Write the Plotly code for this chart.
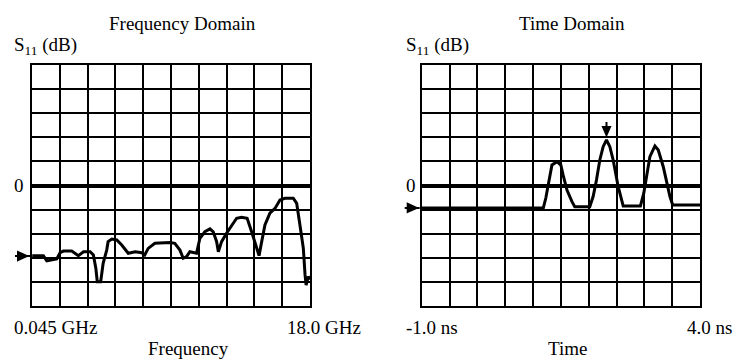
import plotly.graph_objects as go

# ---------------- data ----------------
freq_ghz = [0.06, 0.78, 1.00, 1.64, 1.86, 2.07, 2.61, 3.04, 3.37, 3.80, 4.01, 4.17, 4.26, 4.48,
            4.64, 4.87, 4.96, 5.20, 5.52, 5.84, 6.26, 6.71, 7.14, 7.33, 7.55, 7.98, 8.95, 9.27,
            9.60, 9.81, 10.03, 10.24, 10.67, 10.89, 11.21, 11.54, 11.75, 11.97, 12.08, 12.29,
            12.61, 12.94, 13.26, 13.58, 13.94, 14.23, 14.55, 14.71, 14.88, 15.09, 15.41, 15.74,
            16.06, 16.38, 16.92, 17.14, 17.35, 17.57, 17.68, 17.75, 17.89, 18.0]
s11_freq_db = [-29.1, -29.1, -31.3, -30.5, -27.9, -27.2, -27.2, -29.1, -27.5, -27.5, -28.8, -34.4,
               -39.9, -39.9, -32.3, -26.8, -23.3, -22.2, -22.6, -24.7, -28.1, -27.5, -27.9, -28.8,
               -26.1, -24.0, -23.7, -24.0, -26.8, -30.2, -29.5, -27.5, -28.1, -21.9, -19.2, -18.0,
               -19.2, -23.3, -27.5, -23.3, -19.8, -16.4, -13.6, -13.2, -13.6, -19.2, -26.1, -29.1,
               -23.3, -16.4, -11.5, -9.5, -6.0, -5.3, -5.3, -7.4, -16.4, -26.1, -37.1, -41.3,
               -37.8, -39.0]

time_ns = [-1.0, 1.185, 1.23, 1.29, 1.34, 1.43, 1.50, 1.54, 1.61, 1.70, 1.75, 2.02, 2.08, 2.14,
           2.20, 2.26, 2.32, 2.38, 2.44, 2.53, 2.59, 2.62, 2.93, 2.99, 3.04, 3.10, 3.19, 3.25,
           3.34, 3.40, 3.46, 3.51, 4.0]
s11_time_db = [-9.3, -9.3, -5.2, 2.3, 8.5, 9.9, 8.5, 4.4, -1.9, -6.7, -8.8, -8.8, -4.6, 2.3,
               10.6, 16.1, 18.9, 16.1, 10.6, -0.5, -6.7, -8.5, -8.5, -3.2, 3.7, 12.0, 16.4, 14.7,
               7.8, 1.6, -4.6, -8.1, -8.1]

freq_range = [0.045, 18.0]
time_range = [-1.0, 4.0]
db_range = [-50, 50]
db_per_div = 10
ref_freq_db = -29.3
ref_time_db = -9.3

freq_tick_labels = ["0.045 GHz", "18.0 GHz"]
time_tick_labels = ["-1.0 ns", "4.0 ns"]
titles = ["Frequency Domain", "Time Domain"]
x_titles = ["Frequency", "Time"]
y_title = "S<sub>11</sub> (dB)"

# ---------------- figure ----------------
W, H = 738, 361
FONT = dict(family="Liberation Serif, Times New Roman, serif", size=19, color="black")

fig = go.Figure()
fig.add_trace(go.Scatter(x=freq_ghz, y=s11_freq_db, mode="lines",
                         line=dict(color="black", width=3), xaxis="x", yaxis="y",
                         hoverinfo="skip"))
fig.add_trace(go.Scatter(x=time_ns, y=s11_time_db, mode="lines",
                         line=dict(color="black", width=3), xaxis="x2", yaxis="y2",
                         hoverinfo="skip"))


def px_x(p):
    return p / W


def px_y(p):
    return 1 - p / H


grid = dict(showgrid=True, gridcolor="black", gridwidth=1.5, showline=True, linecolor="black",
            linewidth=1.5, mirror=True, ticks="", showticklabels=False, fixedrange=True)

xdom1 = [px_x(32), px_x(310)]
xdom2 = [px_x(421.7), px_x(700)]
ydom = [px_y(306), px_y(65)]
fig.update_layout(
    width=W, height=H, margin=dict(l=0, r=0, t=0, b=0),
    paper_bgcolor="white", plot_bgcolor="white", showlegend=False,
    font=FONT,
    xaxis=dict(domain=xdom1, range=freq_range, tick0=freq_range[0],
               dtick=(freq_range[1] - freq_range[0]) / 10, zeroline=False, **grid),
    yaxis=dict(domain=ydom, range=db_range, dtick=db_per_div, zeroline=True,
               zerolinecolor="black", zerolinewidth=4, **grid),
    xaxis2=dict(domain=xdom2, range=time_range, tick0=time_range[0],
                dtick=(time_range[1] - time_range[0]) / 10, zeroline=False, anchor="y2", **grid),
    yaxis2=dict(domain=ydom, range=db_range, dtick=db_per_div, zeroline=True,
                zerolinecolor="black", zerolinewidth=4, anchor="x2", **grid),
)

ann = []


def text(t, x, y, xanchor="center"):
    ann.append(dict(text=t, x=px_x(x), y=px_y(y), xref="paper", yref="paper",
                    xanchor=xanchor, yanchor="middle", showarrow=False, font=FONT))


# titles and labels
text(titles[0], 182.5, 23)
text(titles[1], 571.7, 23)
text(y_title, 12, 46, "left")
text(y_title, 404, 46, "left")
text("0", 19, 185)
text("0", 411.5, 185)
text(freq_tick_labels[0], 12, 327, "left")
text(freq_tick_labels[1], 363, 327, "right")
text(time_tick_labels[0], 404, 327, "left")
text(time_tick_labels[1], 734, 327, "right")
text(x_titles[0], 188, 348)
text(x_titles[1], 567.5, 348)
fig.update_layout(annotations=ann)

# reference-level arrows (pixel-sized shapes at the axis edge, at the data reference level)
ref_arrow_path = "M -17,0 L -2,0 M -14,-4 L -5,0 L -14,4 Z"
for xa, yr, ya in [(xdom1[0], "y", ref_freq_db), (xdom2[0], "y2", ref_time_db)]:
    fig.add_shape(type="path", xref="paper", yref=yr, xsizemode="pixel", ysizemode="pixel",
                  xanchor=xa, yanchor=ya, path=ref_arrow_path,
                  line=dict(color="black", width=2), fillcolor="black")

# peak marker on the time-domain trace
peak_i = max(range(len(s11_time_db)), key=lambda i: s11_time_db[i])
fig.add_shape(type="path", xref="x2", yref="y2", xsizemode="pixel", ysizemode="pixel",
              xanchor=time_ns[peak_i], yanchor=s11_time_db[peak_i],
              path="M 0,18 L 0,13 M -3.5,13 L 3.5,13 L 0,5 Z",
              line=dict(color="black", width=2), fillcolor="black")

fig.write_html("out.html")
